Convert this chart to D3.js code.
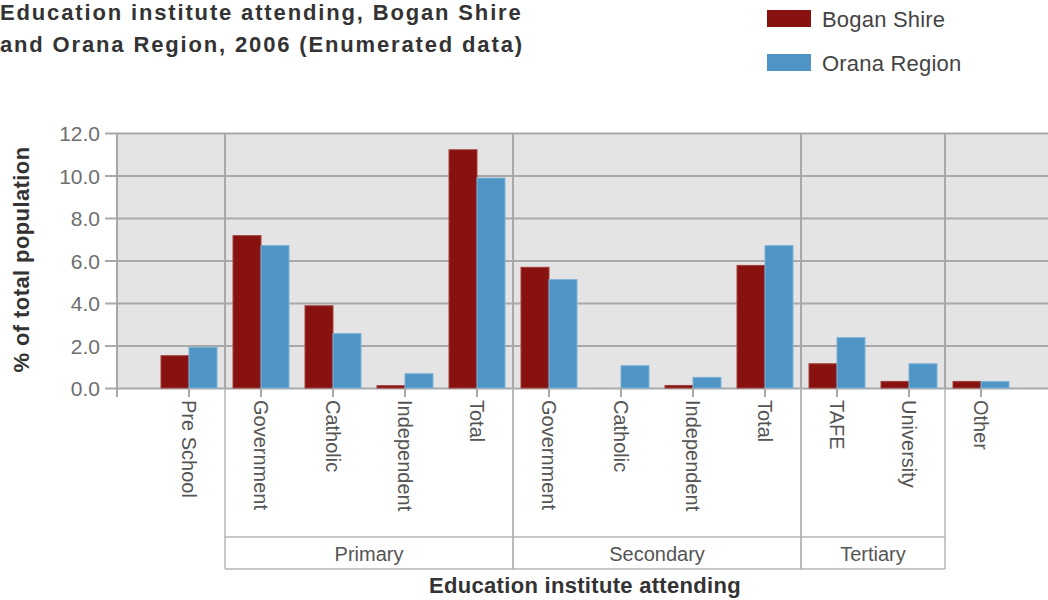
<!DOCTYPE html>
<html>
<head>
<meta charset="utf-8">
<script src="https://cdn.jsdelivr.net/npm/d3@7"></script>
<style>
  html, body { margin: 0; padding: 0; background: #fff; overflow: hidden; }
  svg { display: block; font-family: "Liberation Sans", Arial, sans-serif; }
</style>
</head>
<body>
<svg id="chart" width="1048" height="600"></svg>
<script>
const categories = ["Pre School", "Government", "Catholic", "Independent", "Total",
                    "Government", "Catholic", "Independent", "Total",
                    "TAFE", "University", "Other"];
const groupOf = ["", "Primary", "Primary", "Primary", "Primary",
                 "Secondary", "Secondary", "Secondary", "Secondary",
                 "Tertiary", "Tertiary", ""];
const seriesNames = ["Bogan Shire", "Orana Region"];
const boganShire  = [1.52, 7.17, 3.87, 0.11, 11.21, 5.68, 0.0, 0.12, 5.77, 1.14, 0.31, 0.31];
const oranaRegion = [1.91, 6.70, 2.56, 0.67, 9.88, 5.10, 1.05, 0.50, 6.70, 2.37, 1.14, 0.30];
const yTicks = [0, 2, 4, 6, 8, 10, 12];
const colors = ["#87120f", "#4e94c5"];
const titleLines = ["Education institute attending, Bogan Shire", "and Orana Region, 2006 (Enumerated data)"];

const svg = d3.select("#chart");
const plotLeft = 117, plotTop = 133, plotBottom = 388;
const step = 72;
const plotRight = plotLeft + step * (categories.length + 1);

const keys = categories.map((c, i) => i);
const x = d3.scaleBand().domain(keys)
  .range([plotLeft + step / 2, plotLeft + step / 2 + step * categories.length]).padding(0);
const xs = d3.scaleBand().domain([0, 1]).range([8, step - 8]).padding(0);
const y = d3.scaleLinear().domain([0, 12]).range([plotBottom, plotTop]);

// plot background
svg.append("rect").attr("x", plotLeft).attr("y", plotTop)
  .attr("width", plotRight - plotLeft).attr("height", plotBottom - plotTop)
  .attr("fill", "#e4e4e4");

// gridlines + y ticks
const yAxis = d3.axisLeft(y).tickValues(yTicks).tickFormat(d3.format(".1f"))
  .tickSize(-(plotRight - plotLeft)).tickPadding(6);
const gy = svg.append("g").attr("transform", `translate(${plotLeft},0)`).call(yAxis);
gy.select(".domain").remove();
gy.selectAll(".tick line").attr("stroke", "#a8a8a8").attr("stroke-width", 2).attr("x1", -12);
gy.selectAll(".tick text").attr("x", -17).attr("fill", "#6e6e6e")
  .style("font-size", "21px").attr("dy", "0.36em");

// vertical separators inside plot (between groups)
const boundaries = [];
for (let i = 1; i < categories.length; i++) {
  if (groupOf[i] !== groupOf[i - 1] || (groupOf[i] === "" && groupOf[i-1] === "")) boundaries.push(i);
}
svg.append("g").selectAll("line").data(boundaries).join("line")
  .attr("x1", d => x(d)).attr("x2", d => x(d))
  .attr("y1", plotTop).attr("y2", plotBottom)
  .attr("stroke", "#a8a8a8").attr("stroke-width", 2);
// left axis line
svg.append("line").attr("x1", plotLeft).attr("x2", plotLeft).attr("y1", plotTop).attr("y2", plotBottom + 9)
  .attr("stroke", "#a8a8a8").attr("stroke-width", 2);

// bars
const data = categories.map((c, i) => ({ i, vals: [boganShire[i], oranaRegion[i]] }));
const gBars = svg.append("g");
data.forEach(d => {
  d.vals.forEach((v, s) => {
    if (v <= 0) return;
    gBars.append("rect")
      .attr("x", x(d.i) + xs(s)).attr("width", xs.bandwidth())
      .attr("y", y(v)).attr("height", y(0) - y(v))
      .attr("fill", colors[s])
      .attr("stroke", s === 0 ? "#a3403d" : "#7eb2d8").attr("stroke-width", 1);
  });
});

// x axis ticks and labels
const gx = svg.append("g").attr("transform", `translate(0,${plotBottom})`)
  .call(d3.axisBottom(x).tickSize(9).tickFormat(i => categories[i]));
gx.select(".domain").remove();
gx.selectAll(".tick line").attr("stroke", "#a8a8a8").attr("stroke-width", 2);
gx.selectAll(".tick text")
  .attr("transform", "rotate(90)")
  .attr("x", 12).attr("y", 0).attr("dy", "0.35em")
  .style("text-anchor", "start").style("font-size", "20px").attr("fill", "#555");

// group boxes
const groupNames = [...new Set(groupOf.filter(g => g))];
const boxTop = 537, boxBottom = 569;
const gg = svg.append("g");
groupNames.forEach(g => {
  const idx = groupOf.map((v, i) => v === g ? i : -1).filter(i => i >= 0);
  const x0 = x(idx[0]), x1 = x(idx[idx.length - 1]) + x.bandwidth();
  [x0, x1].forEach(xx => gg.append("line").attr("x1", xx).attr("x2", xx)
    .attr("y1", plotBottom).attr("y2", boxBottom).attr("stroke", "#b4b4b4").attr("stroke-width", 1.5));
  [boxTop, boxBottom].forEach(yy => gg.append("line").attr("x1", x0).attr("x2", x1)
    .attr("y1", yy).attr("y2", yy).attr("stroke", "#b4b4b4").attr("stroke-width", 1.5));
  gg.append("text").attr("x", (x0 + x1) / 2).attr("y", 561).attr("text-anchor", "middle")
    .style("font-size", "20px").attr("fill", "#555").text(g);
});

// axis titles
svg.append("text").attr("x", (plotLeft + plotRight) / 2).attr("y", 593).attr("text-anchor", "middle")
  .style("font-size", "22px").style("font-weight", "bold").attr("fill", "#333")
  .style("letter-spacing", "0.3px")
  .text("Education institute attending");
svg.append("text").attr("transform", `translate(29,${(plotTop + plotBottom) / 2 - 1}) rotate(-90)`)
  .attr("text-anchor", "middle")
  .style("font-size", "22px").style("font-weight", "bold").attr("fill", "#333")
  .style("letter-spacing", "0.4px")
  .text("% of total population");

// title
svg.append("g").selectAll("text").data(titleLines).join("text")
  .attr("x", 0).attr("y", (d, i) => 20 + i * 32)
  .style("font-size", "22px").style("font-weight", "bold").attr("fill", "#333")
  .style("letter-spacing", "1.85px")
  .text(d => d);

// legend
const lg = svg.append("g");
seriesNames.forEach((n, i) => {
  lg.append("rect").attr("x", 767).attr("y", 10 + i * 44).attr("width", 44).attr("height", 17)
    .attr("fill", colors[i]);
  lg.append("text").attr("x", 822).attr("y", 27 + i * 44)
    .style("font-size", "22px").attr("fill", "#444").style("letter-spacing", "0.2px").text(n);
});
</script>
</body>
</html>
